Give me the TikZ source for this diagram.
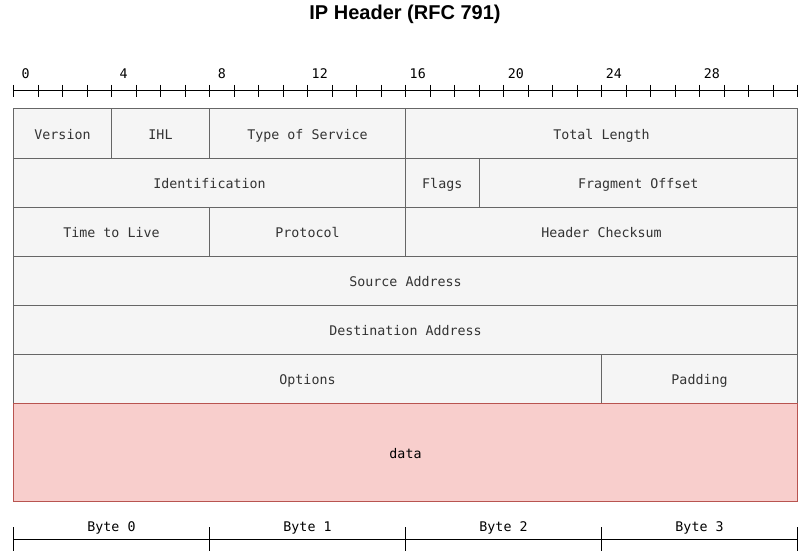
\documentclass[tikz,border=0pt]{standalone}
\usepackage{fontspec}
\setmonofont{DejaVu Sans Mono}
\setsansfont{Liberation Sans}
\usepackage{tikz}
\usetikzlibrary{positioning}

\definecolor{fieldfill}{HTML}{F5F5F5}
\definecolor{fieldline}{HTML}{666666}
\definecolor{datafill}{HTML}{F8CECC}
\definecolor{dataline}{HTML}{B85450}
\definecolor{fieldtext}{HTML}{333333}

\tikzset{
  field/.style = {draw = fieldline, fill = fieldfill, shape = rectangle, line width = 1pt,
    inner sep = 0pt, outer sep = 0pt, anchor = north west, minimum height = 49pt,
    text = fieldtext, font = \ttfamily\fontsize{13.3}{16}\selectfont,
    text height = 0.73em+4pt, text depth = 0pt},
  datafield/.style = {field, draw = dataline, fill = datafill, text = black, minimum height = 98pt,
    text height = 0.73em+6pt},
  bitlabel/.style = {inner sep = 0pt, font = \ttfamily\fontsize{13.3}{16}\selectfont,
    text height = 0.73em+4pt, text depth = 0pt}
}

\begin{document}
\begin{tikzpicture}[x = 1pt, y = -1pt]
\useasboundingbox (0,0) rectangle (810,559);
\node[font = \sffamily\bfseries\fontsize{20}{24}\selectfont, anchor = base] (title) at (405,19.5) {IP Header (RFC 791)};
% bit ruler
\draw[line width = 1pt] (13.5,91) -- (798,91);
\foreach \i in {0,...,32}
  \draw[line width = 1pt] (13.5+24.5*\i,85) -- (13.5+24.5*\i,97);
\foreach \i in {0,4,...,28}
  \node[bitlabel] (bit\i) at (25.75+24.5*\i,73) {\i};
% header fields
\foreach \n/\b/\w/\r/\t in {ver/0/4/0/Version, ihl/4/4/0/IHL, tos/8/8/0/Type of Service, len/16/16/0/Total Length,
    id/0/16/1/Identification, flags/16/3/1/Flags, frag/19/13/1/Fragment Offset,
    ttl/0/8/2/Time to Live, proto/8/8/2/Protocol, csum/16/16/2/Header Checksum,
    src/0/32/3/Source Address,
    dst/0/32/4/Destination Address,
    opt/0/24/5/Options, pad/24/8/5/Padding}
  \node[field, minimum width = 24.5pt*\w] (\n) at (13.5+24.5*\b,109+49*\r) {\t};
\node[datafield, minimum width = 784pt] (data) at (13.5,403) {data};
% byte ruler
\draw[line width = 1pt] (13.5,539) -- (798,539);
\foreach \i in {0,...,4}
  \draw[line width = 1pt] (13.5+196*\i,527) -- (13.5+196*\i,551);
\foreach \i in {0,...,3}
  \node[bitlabel] (byte\i) at (111.5+196*\i,526) {Byte \i};
\end{tikzpicture}
\end{document}
